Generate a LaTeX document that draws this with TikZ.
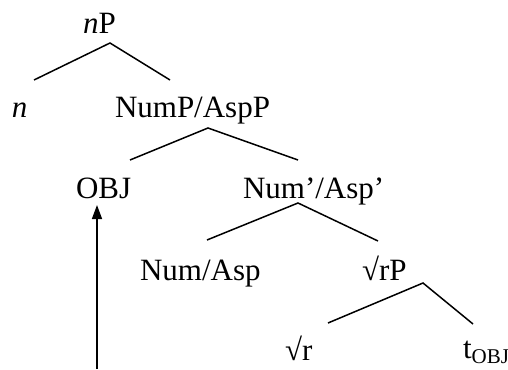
\documentclass[tikz,border=0pt]{standalone}
\usepackage{fontspec}
\setmainfont{Liberation Serif}
\usetikzlibrary{arrows.meta}

\tikzset{
  label/.style={anchor=base west, inner sep=0pt, outer sep=0pt,
    font=\fontsize{31}{37}\selectfont},
  branch/.style={line width=1.5pt, line join=miter},
  move/.style={line width=1.5pt, -{Triangle[length=14pt,width=10pt]}}
}
\newcommand{\subtext}[1]{\raisebox{-5pt}{\fontsize{21}{21}\selectfont #1}}

\begin{document}
\begin{tikzpicture}[x=1pt,y=1pt]
  \useasboundingbox (0,0) rectangle (508,-369);

  % labels of the tree, placed on their baselines
  \node[label] (nP)   at (83,-34)   {\textit{n}P};
  \node[label] (n)    at (12,-117)  {\textit{n}};
  \node[label] (NumP) at (115,-117) {NumP/AspP};
  \node[label] (OBJ)  at (76,-198)  {OBJ};
  \node[label] (Numb) at (243,-198) {Num’/Asp’};
  \node[label] (Num)  at (140,-280) {Num/Asp};
  \node[label] (rP)   at (362,-280) {√rP};
  \node[label] (r)    at (285,-360) {√r};
  \node[label] (t)    at (463,-358) {t\subtext{OBJ}};

  % branching points and leg ends
  \coordinate (nP-l) at (34,-80);   \coordinate (nP-a) at (110,-43);  \coordinate (nP-r) at (170,-80);
  \coordinate (NumP-l) at (130,-160); \coordinate (NumP-a) at (208,-128); \coordinate (NumP-r) at (298,-160);
  \coordinate (Numb-l) at (207,-240); \coordinate (Numb-a) at (298,-203); \coordinate (Numb-r) at (378,-241);
  \coordinate (rP-l) at (328,-323); \coordinate (rP-a) at (423,-283); \coordinate (rP-r) at (473,-324);

  \draw[branch] (nP-l) -- (nP-a) -- (nP-r);
  \draw[branch] (NumP-l) -- (NumP-a) -- (NumP-r);
  \draw[branch] (Numb-l) -- (Numb-a) -- (Numb-r);
  \draw[branch] (rP-l) -- (rP-a) -- (rP-r);

  % movement of the object
  \coordinate (trace) at (97,-369);
  \draw[move] (trace) -- ([yshift=-7pt]OBJ.base -| trace);
\end{tikzpicture}
\end{document}
